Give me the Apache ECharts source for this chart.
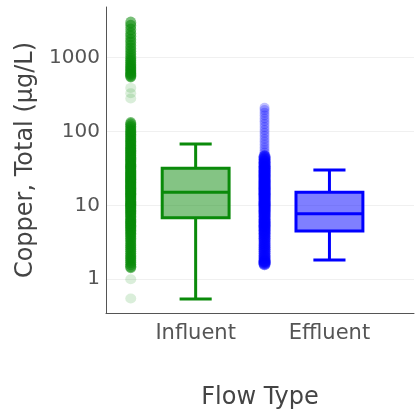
<!DOCTYPE html>
<html>
<head>
<meta charset="utf-8">
<script src="https://cdn.jsdelivr.net/npm/echarts@6/dist/echarts.min.js"></script>
<style>html,body{margin:0;padding:0;background:#fff}#c{width:417px;height:415px}</style>
</head>
<body>
<div id="c"></div>
<script>
// ---- data ----
const categories = ['Influent', 'Effluent'];
const yTickValues = [1, 10, 100, 1000];
// box stats: [lower whisker, Q1, median, Q3, upper whisker]
const influentBox = [0.54, 6.8, 15.1, 31.8, 67.6];
const effluentBox = [1.82, 4.5, 7.7, 15.1, 30.2];
// individual sample values (strip)
const influentPoints = [
  3000, 2700, 2400, 2150, 1950, 1750, 1600, 1450, 1330, 1220, 1120, 1040, 970, 910, 860, 810,
  770, 730, 700, 670, 640, 615, 590, 570, 555,
  130, 125, 118, 112, 105, 100, 96, 92, 88, 84, 80, 77, 74, 71, 68, 65, 62, 60, 58, 56, 54, 52,
  50, 48, 46.5, 45, 43.5, 42, 40.5, 39, 37.5, 36, 35, 34, 33, 32, 31, 30, 29, 28, 27.2, 26.4,
  25.6, 24.8, 24, 23.3, 22.6, 22, 21.4, 20.8, 20.2, 19.6, 19, 18.5, 18, 17.5, 17, 16.5, 16, 15.5,
  15, 14.6, 14.2, 13.8, 13.4, 13, 12.6, 12.2, 11.8, 11.4, 11, 10.7, 10.4, 10.1, 9.8, 9.5, 9.2,
  8.9, 8.6, 8.3, 8, 7.7, 7.4, 7.1, 6.8, 6.5, 6.2, 6, 5.8, 5.6, 5.4, 5.2, 5, 4.8, 4.6, 4.4, 4.2,
  4, 3.8, 3.6, 3.4, 3.2, 3, 2.85, 2.7, 2.55, 2.4, 2.25, 2.1, 2, 1.9, 1.8, 1.7, 1.6, 1.5, 1.45
];
// isolated influent samples (drawn faint, as in the reference)
const influentSparsePoints = [390, 330, 280, 1.0, 0.55];
// sparser upper effluent samples (lighter in the reference)
const effluentUpperPoints = [210, 195, 180, 165, 150, 138, 126, 115, 105, 96, 88, 80, 73, 67, 61, 56, 52, 48];
const effluentPoints = [
  46, 44, 42, 40, 38.5, 37, 35.5, 34, 33, 32, 31, 30, 29, 28, 27, 26.2, 25.4, 24.6, 23.8, 23,
  22.3, 21.6, 21, 20.4, 19.8, 19.2, 18.6, 18, 17.5, 17, 16.5, 16, 15.5, 15, 14.6, 14.2, 13.8,
  13.4, 13, 12.6, 12.2, 11.8, 11.4, 11, 10.7, 10.4, 10.1, 9.8, 9.5, 9.2, 8.9, 8.6, 8.3, 8, 7.7,
  7.4, 7.1, 6.8, 6.5, 6.2, 6, 5.8, 5.6, 5.4, 5.2, 5, 4.8, 4.6, 4.4, 4.2, 4, 3.8, 3.6, 3.4, 3.2,
  3, 2.85, 2.7, 2.55, 2.4, 2.25, 2.1, 2, 1.9, 1.8, 1.75, 1.7, 1.65, 1.6
];

const colors = ['#0a8a0a', '#0000ff'];
const fills = ['rgba(10,138,10,0.5)', 'rgba(0,0,255,0.5)'];
const stripOffset = -0.485;

const chart = echarts.init(document.getElementById('c'), null, {renderer: 'canvas'});

function boxItem(params, api) {
  const x = api.value(0);
  const lo = api.coord([x, api.value(1)]);
  const q1 = api.coord([x, api.value(2)]);
  const med = api.coord([x, api.value(3)]);
  const q3 = api.coord([x, api.value(4)]);
  const hi = api.coord([x, api.value(5)]);
  const halfW = api.size([0.25, 0])[0];
  const capW = api.size([0.12, 0])[0];
  const i = params.dataIndex;
  const ls = {stroke: colors[i], lineWidth: 3, fill: null};
  return {
    type: 'group',
    children: [
      {type: 'line', shape: {x1: hi[0], y1: hi[1], x2: q3[0], y2: q3[1]}, style: ls},
      {type: 'line', shape: {x1: lo[0], y1: lo[1], x2: q1[0], y2: q1[1]}, style: ls},
      {type: 'line', shape: {x1: hi[0] - capW, y1: hi[1], x2: hi[0] + capW, y2: hi[1]}, style: ls},
      {type: 'line', shape: {x1: lo[0] - capW, y1: lo[1], x2: lo[0] + capW, y2: lo[1]}, style: ls},
      {type: 'rect', shape: {x: q3[0] - halfW, y: q3[1], width: halfW * 2, height: q1[1] - q3[1]},
        style: {fill: fills[i], stroke: colors[i], lineWidth: 3}},
      {type: 'line', shape: {x1: med[0] - halfW, y1: med[1], x2: med[0] + halfW, y2: med[1]}, style: ls}
    ]
  };
}

chart.setOption({
  animation: false,
  grid: {left: 106, right: 3, top: 7, bottom: 100, containLabel: false},
  xAxis: {
    type: 'value', min: -0.67, max: 1.632,
    axisLine: {show: true, onZero: false, lineStyle: {color: '#555', width: 1}},
    axisTick: {show: false},
    splitLine: {show: false},
    axisLabel: {
      customValues: [0, 1],
      formatter: v => categories[Math.round(v)] || '',
      color: '#555', fontSize: 21, fontFamily: 'DejaVu Sans', margin: 10
    },
    name: 'Flow Type', nameLocation: 'middle', nameGap: 73,
    nameTextStyle: {color: '#444', fontSize: 24, fontFamily: 'DejaVu Sans'}
  },
  yAxis: {
    type: 'log', logBase: 10, min: 0.349, max: 4855,
    axisLine: {show: true, onZero: false, lineStyle: {color: '#555', width: 1}},
    axisTick: {show: false, customValues: yTickValues},
    splitLine: {show: true, lineStyle: {color: '#f0f0f0', width: 1}},
    axisLabel: {customValues: yTickValues, formatter: v => String(Math.round(v)),
      color: '#555', fontSize: 20, fontFamily: 'DejaVu Sans', margin: 6},
    name: 'Copper, Total (µg/L)', nameLocation: 'middle', nameGap: 54, nameRotate: 90,
    nameTextStyle: {color: '#444', fontSize: 24, fontFamily: 'DejaVu Sans'}
  },
  series: [
    {
      type: 'scatter', symbol: 'circle', symbolSize: [11, 12],
      itemStyle: {color: colors[0], opacity: 0.55},
      data: influentPoints.map(v => [0 + stripOffset, v]), z: 2
    },
    {
      type: 'scatter', symbol: 'circle', symbolSize: [11, 10],
      itemStyle: {color: colors[0], opacity: 0.15},
      data: influentSparsePoints.map(v => [0 + stripOffset, v]), z: 2
    },
    {
      type: 'scatter', symbol: 'circle', symbolSize: [10, 10],
      itemStyle: {color: colors[1], opacity: 0.25},
      data: effluentUpperPoints.map(v => [1 + stripOffset, v]), z: 2
    },
    {
      type: 'scatter', symbol: 'circle', symbolSize: [12, 12],
      itemStyle: {color: colors[1], opacity: 0.55},
      data: effluentPoints.map(v => [1 + stripOffset, v]), z: 2
    },
    {
      type: 'custom', renderItem: boxItem, z: 3,
      data: [[0].concat(influentBox), [1].concat(effluentBox)],
      encode: {x: 0, y: [1, 2, 3, 4, 5]}
    }
  ]
});
</script>
</body>
</html>
